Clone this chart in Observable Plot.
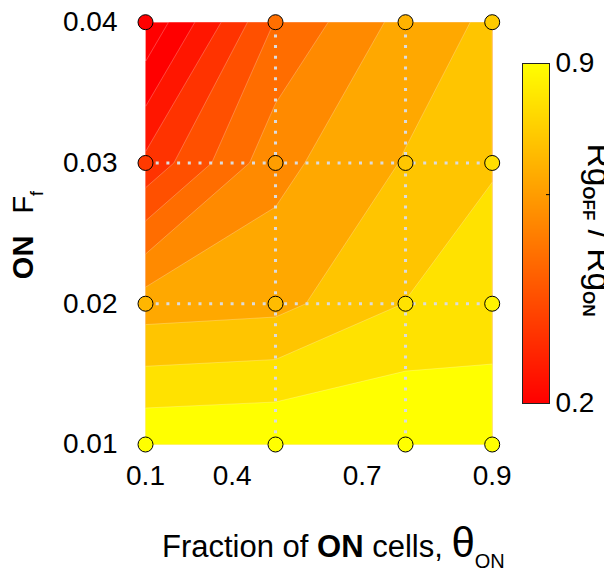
<!DOCTYPE html>
<html><head><meta charset="utf-8">
<script src="https://cdn.jsdelivr.net/npm/d3@7"></script>
<script src="https://cdn.jsdelivr.net/npm/@observablehq/plot@0.6"></script>
<style>
body{margin:0;background:#fff;}
#wrap{position:relative;width:604px;height:572px;overflow:hidden;font-family:"Liberation Sans",Arial,sans-serif;}
#wrap svg{position:absolute;left:0;top:0;}
</style></head><body><div id="wrap"></div>
<script>
// ---- data ----
const xValues = [0.1, 0.4, 0.7, 0.9];           // fraction of ON cells
const yValues = [0.01, 0.02, 0.03, 0.04];       // ON F_f
const ratioAtF001 = [0.97, 0.98, 0.985, 0.94];  // Rg_OFF / Rg_ON at F_f = 0.01
const ratioAtF002 = [0.70, 0.715, 0.822, 0.87];
const ratioAtF003 = [0.36, 0.635, 0.746, 0.812];
const ratioAtF004 = [0.11, 0.505, 0.69, 0.757];
const contourLevels = [0.10, 0.18, 0.26, 0.34, 0.42, 0.50, 0.58, 0.66, 0.74, 0.82, 0.90];
const xTickValues = [0.1, 0.3, 0.6, 0.9];
const xTickLabels = ["0.1", "0.4", "0.7", "0.9"];
const yTickLabels = ["0.01", "0.02", "0.03", "0.04"];
const colorDomain = [0.2, 0.9];
const colorbarTicks = [0.2, 0.9];
const colorbarTickLabels = ["0.2", "0.9"];
const colorbarMinorTicks = [0.63];

const FONT = '"Liberation Sans", Arial, sans-serif';
const rows = [ratioAtF001, ratioAtF002, ratioAtF003, ratioAtF004];
const nx = xValues.length, ny = yValues.length;

const samples = [];
rows.forEach((row, j) => row.forEach((z, i) => samples.push({x: xValues[i], y: yValues[j], z})));

// filled contour bands (marching squares on the sample grid, like contourf)
const gridToData = (c, vals) => {
  const t = Math.max(0, Math.min(vals.length - 1, c - 0.5));
  const k = Math.min(vals.length - 2, Math.floor(t));
  return vals[k] + (t - k) * (vals[k + 1] - vals[k]);
};
const bands = d3.contours().size([nx, ny]).thresholds(contourLevels)(rows.flat());
const ringPts = [];
let ringId = 0;
bands.forEach(b => b.coordinates.forEach(poly => {
  poly[0].forEach(([cx, cy]) => ringPts.push({x: gridToData(cx, xValues), y: gridToData(cy, yValues), level: b.value, ring: ringId}));
  ringId++;
}));

const color = {type: "linear", domain: colorDomain, range: ["#ff0000", "#ffff00"], interpolate: "rgb", clamp: true};

const chart = Plot.plot({
  width: 604, height: 572,
  marginLeft: 145, marginRight: 112.3, marginTop: 21.7, marginBottom: 128,
  x: {domain: [xValues[0], xValues[nx - 1]]},
  y: {domain: [yValues[0], yValues[ny - 1]]},
  color,
  style: {fontFamily: FONT, background: "white", color: "black"},
  marks: [
    Plot.line(ringPts, {x: "x", y: "y", z: "ring", fill: "level", stroke: "white", strokeOpacity: 0.35, strokeWidth: 0.7}),
    Plot.ruleX(xValues.slice(1, -1), {y1: yValues[0], y2: yValues[ny - 1], stroke: "#dcdcdc", strokeWidth: 3, strokeDasharray: "3,7.7"}),
    Plot.ruleY(yValues.slice(1, -1), {x1: xValues[0], x2: xValues[nx - 1], stroke: "#dcdcdc", strokeWidth: 3, strokeDasharray: "3,7.7"}),
    Plot.dot(samples, {x: "x", y: "y", fill: "z", r: 7.5, stroke: "black", strokeWidth: 1}),
    Plot.axisX(xTickValues, {tickSize: 0, tickPadding: 21, fontSize: 28, tickFormat: d => xTickLabels[xTickValues.indexOf(d)], label: null}),
    Plot.axisY(yValues, {tickSize: 0, tickPadding: 28, fontSize: 28, tickFormat: d => yTickLabels[yValues.indexOf(d)], label: null})
  ]
});

const svg = d3.select(chart);
const yl = svg.append("text").attr("transform", "translate(33,235) rotate(-90)")
  .attr("text-anchor", "middle").attr("font-size", 29).attr("fill", "black").style("white-space", "pre");
yl.append("tspan").attr("font-weight", "bold").text("ON");
yl.append("tspan").attr("dx", 14).text(" F");
yl.append("tspan").attr("font-size", 18).attr("dy", 10).text("f");

const xl = svg.append("text").attr("x", 162).attr("y", 557).attr("text-anchor", "start")
  .attr("font-size", 31).attr("fill", "black").style("white-space", "pre");
xl.append("tspan").text("Fraction of ");
xl.append("tspan").attr("font-weight", "bold").text("ON");
xl.append("tspan").text(" cells, ");
xl.append("tspan").attr("font-size", 42).text("θ");
xl.append("tspan").attr("font-size", 20).attr("dy", 11).text("ON");

const cb = Plot.plot({
  width: 604, height: 572,
  marginLeft: 522, marginRight: 55, marginTop: 63, marginBottom: 169,
  x: {domain: [0, 1], axis: null},
  y: {domain: colorDomain},
  color,
  style: {fontFamily: FONT, background: "transparent", color: "black"},
  marks: [
    Plot.raster({fill: (x, y) => y, x1: 0, x2: 1, y1: colorDomain[0], y2: colorDomain[1], pixelSize: 1}),
    Plot.frame({stroke: "#222", strokeWidth: 1}),
    Plot.axisY(colorbarTicks, {anchor: "right", tickSize: 0, tickPadding: 6, fontSize: 28, tickFormat: d => colorbarTickLabels[colorbarTicks.indexOf(d)], label: null}),
    Plot.axisY(colorbarMinorTicks, {anchor: "right", tickSize: -4, tickFormat: () => "", label: null})
  ]
});
const ct = d3.select(cb).append("text").attr("transform", "translate(588,230) rotate(90)")
  .attr("text-anchor", "middle").attr("font-size", 33.5).attr("fill", "black").style("white-space", "pre");
ct.append("tspan").text("Rg");
ct.append("tspan").attr("font-size", 17).attr("font-weight", "bold").attr("dy", 5).text("OFF");
ct.append("tspan").attr("dy", -5).text(" / ");
ct.append("tspan").text("Rg");
ct.append("tspan").attr("font-size", 17).attr("font-weight", "bold").attr("dy", 5).text("ON");

const wrap = document.getElementById("wrap");
wrap.appendChild(chart);
wrap.appendChild(cb);
</script></body></html>
